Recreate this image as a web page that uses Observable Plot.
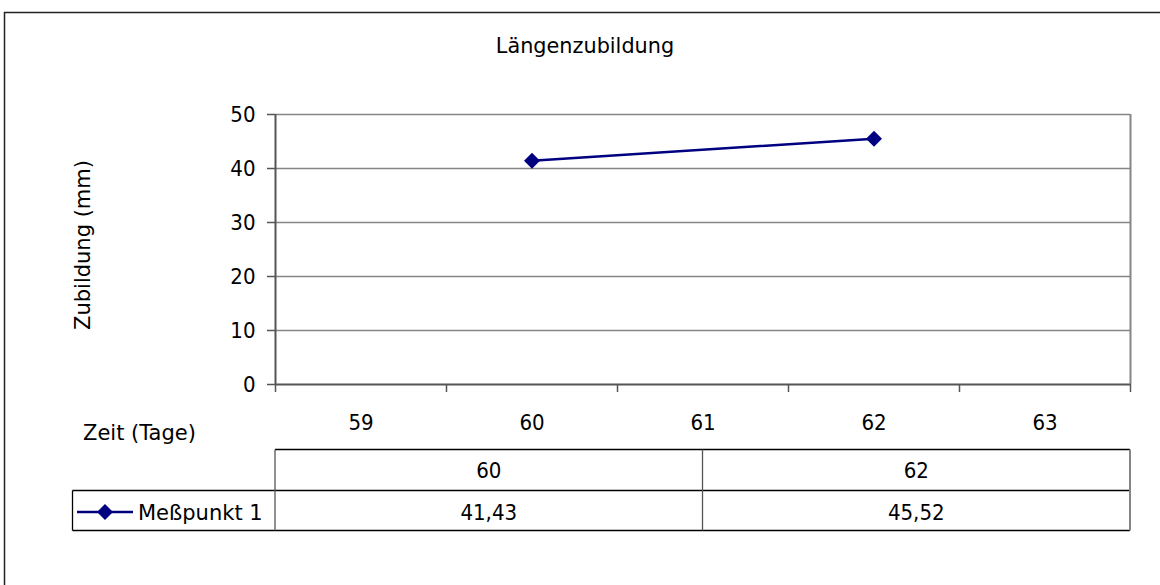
<!DOCTYPE html>
<html>
<head>
<meta charset="utf-8">
<script src="https://cdn.jsdelivr.net/npm/d3@7"></script>
<script src="https://cdn.jsdelivr.net/npm/@observablehq/plot@0.6"></script>
<style>
  html, body { margin: 0; padding: 0; background: #fff; }
  svg { display: block; }
</style>
</head>
<body>
<div id="chart"></div>
<script>
// ---- data ----
const title = "Längenzubildung";
const yLabel = "Zubildung (mm)";
const xLabel = "Zeit (Tage)";
const seriesName = "Meßpunkt 1";
const categories = [59, 60, 61, 62, 63];
const days = [60, 62];
const values = [41.43, 45.52];
const yTicks = [0, 10, 20, 30, 40, 50];

const FONT = "'DejaVu Sans Condensed', 'DejaVu Sans', sans-serif";
const LABEL_FONT = "'DejaVu Sans', sans-serif";
const NAVY = "#000080";
const data = days.map((d, i) => ({day: d, value: values[i]}));
const xDomain = [categories[0] - 0.5, categories[categories.length - 1] + 0.5];
const boundaries = categories.map(c => c - 0.5).concat([xDomain[1]]);
const fmt = v => String(v).replace(".", ",");

const plot = Plot.plot({
  width: 1160,
  height: 585,
  marginLeft: 275,
  marginRight: 30,
  marginTop: 114,
  marginBottom: 201,
  style: {fontFamily: FONT, fontSize: "22px", color: "#000", background: "#fff", overflow: "visible"},
  x: {type: "linear", domain: xDomain, axis: null},
  y: {type: "linear", domain: [yTicks[0], yTicks[yTicks.length - 1]], axis: null},
  marks: [
    Plot.ruleY(yTicks.slice(1), {stroke: "#858585", strokeWidth: 1.5}),
    Plot.ruleX([xDomain[1]], {stroke: "#858585", strokeWidth: 2}),
    Plot.axisY({ticks: yTicks, tickSize: 8, tickPadding: 12, tickFormat: d => String(d),
      stroke: "#555", strokeWidth: 1.5, label: null, fontSize: 22}),
    Plot.axisX({ticks: boundaries, tickSize: 8, tickFormat: () => "",
      stroke: "#555", strokeWidth: 1.5, label: null}),
    Plot.axisX({ticks: categories, tickSize: 0, tickPadding: 30, tickFormat: d => String(d),
      label: null, fontSize: 22}),
    Plot.ruleY([yTicks[0]], {stroke: "#555", strokeWidth: 2}),
    Plot.ruleX([xDomain[0]], {stroke: "#555", strokeWidth: 2}),
    Plot.line(data, {x: "day", y: "value", stroke: NAVY, strokeWidth: 2.5}),
    Plot.dot(data, {x: "day", y: "value", symbol: "diamond2", r: 7.2, fill: NAVY, stroke: "none"})
  ]
});

document.getElementById("chart").appendChild(plot);

// ---- overlays: frame, titles, data table ----
const svg = d3.select(plot);
const xs = plot.scale("x");
const x0 = xs.apply(xDomain[0]);
const x1 = xs.apply(xDomain[1]);
const colW = (x1 - x0) / days.length;

const g = svg.append("g").attr("font-family", FONT).attr("fill", "#000")
  .attr("text-anchor", "start");

// outer chart frame (cropped at right/bottom)
g.append("rect").attr("x", 4.5).attr("y", 12.5).attr("width", 1300).attr("height", 800)
  .attr("fill", "none").attr("stroke", "#222").attr("stroke-width", 1.5);

// title
g.append("text").attr("x", 585).attr("y", 52.5).attr("text-anchor", "middle")
  .attr("font-family", LABEL_FONT).attr("font-size", 20.8).text(title);

// y-axis title
g.append("text").attr("transform", "translate(90,245) rotate(-90)").attr("text-anchor", "middle")
  .attr("font-family", LABEL_FONT).attr("font-size", 21).text(yLabel);

// x-axis title
g.append("text").attr("x", 83).attr("y", 440).attr("text-anchor", "start")
  .attr("font-family", LABEL_FONT).attr("font-size", 21).text(xLabel);

// data table
const tTop = 449.5, tMid = 490.5, tBot = 530.5, legLeft = 72.5;
const line = (xa, ya, xb, yb, stroke, w) => g.append("line")
  .attr("x1", xa).attr("y1", ya).attr("x2", xb).attr("y2", yb)
  .attr("stroke", stroke).attr("stroke-width", w);

line(x0, tTop, x1, tTop, "#000", 1.3);
line(legLeft, tMid, x1, tMid, "#000", 1.3);
line(legLeft, tBot, x1, tBot, "#000", 1.3);
line(legLeft, tMid, legLeft, tBot, "#000", 1.3);
line(x0, tTop, x0, tBot, "#555", 1.3);
for (let i = 1; i < days.length; i++) line(x0 + i * colW, tTop, x0 + i * colW, tBot, "#555", 1.3);
line(x1, tTop, x1, tBot, "#858585", 2);

days.forEach((d, i) => {
  const cx = x0 + (i + 0.5) * colW;
  g.append("text").attr("x", cx).attr("y", 478).attr("text-anchor", "middle")
    .attr("font-size", 22).text(String(d));
  g.append("text").attr("x", cx).attr("y", 519.5).attr("text-anchor", "middle")
    .attr("font-size", 22).text(fmt(values[i]));
});

// legend key
line(77, 512, 133, 512, NAVY, 2.5);
g.append("path").attr("transform", "translate(105,512)")
  .attr("d", d3.symbol(d3.symbolDiamond2, Math.PI * 7.2 * 7.2)()).attr("fill", NAVY);
g.append("text").attr("x", 138).attr("y", 519.5).attr("text-anchor", "start")
  .attr("font-family", LABEL_FONT).attr("font-size", 21).text(seriesName);
</script>
</body>
</html>
